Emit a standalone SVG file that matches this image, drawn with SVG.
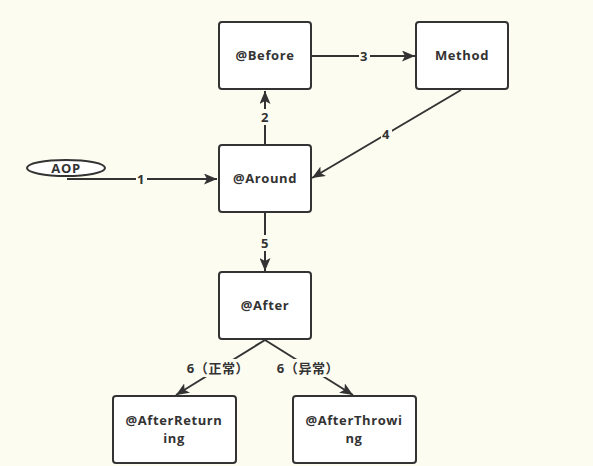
<svg xmlns="http://www.w3.org/2000/svg" width="593" height="466" viewBox="0 0 593 466">
<style>
.box{fill:#fff;stroke:#333;stroke-width:2}
.t{font-family:"Open Sans","Noto Sans CJK SC",sans-serif;font-weight:bold;font-size:13px;letter-spacing:0.6px;fill:#333;text-anchor:middle;dominant-baseline:central}
.c{stroke:#333;stroke-width:2;fill:none}
.lb{fill:#fcfcf1}
</style>
<defs>
<marker id="a" viewBox="0 0 13 11" refX="13" refY="5.5" markerWidth="13" markerHeight="11" markerUnits="userSpaceOnUse" orient="auto">
<path d="M0,0 L13,5.5 L0,11 L3,5.5 Z" fill="#333"/>
</marker>
</defs>
<rect width="593" height="466" fill="#fcfcf1"/>
<g id="connectors">
<path class="c" d="M67,179 H217" marker-end="url(#a)"/>
<path class="c" d="M265,145 V91" marker-end="url(#a)"/>
<path class="c" d="M311,56 H415" marker-end="url(#a)"/>
<path class="c" d="M461,90 L312,178" marker-end="url(#a)"/>
<path class="c" d="M265,212 V271" marker-end="url(#a)"/>
<path class="c" d="M265,340 L176,395" marker-end="url(#a)"/>
<path class="c" d="M265,340 L353,395" marker-end="url(#a)"/>
<rect class="lb" x="136" y="171" width="11" height="16"/>
<text class="t" x="141" y="179">1</text>
<rect class="lb" x="260" y="109" width="11" height="16"/>
<text class="t" x="265" y="117">2</text>
<rect class="lb" x="359" y="48" width="11" height="16"/>
<text class="t" x="364" y="56">3</text>
<rect class="lb" x="381" y="126" width="11" height="16"/>
<text class="t" x="386" y="134">4</text>
<rect class="lb" x="260" y="235" width="11" height="16"/>
<text class="t" x="265" y="243">5</text>
<rect class="lb" x="186" y="359" width="64" height="18"/>
<text class="t" x="218" y="368">6（正常）</text>
<rect class="lb" x="276" y="359" width="64" height="18"/>
<text class="t" x="308" y="368">6（异常）</text>
</g>
<g id="aop">
<ellipse cx="66" cy="168" rx="39" ry="8" fill="#fff" stroke="#333" stroke-width="2"/>
<text class="t" x="66" y="168">AOP</text>
</g>
<g id="before">
<rect class="box" x="219" y="22" width="92" height="67" rx="3"/>
<text class="t" x="265" y="55">@Before</text>
</g>
<g id="method">
<rect class="box" x="416" y="22" width="92" height="67" rx="3"/>
<text class="t" x="462" y="55">Method</text>
</g>
<g id="around">
<rect class="box" x="219" y="145" width="92" height="67" rx="3"/>
<text class="t" x="265" y="178">@Around</text>
</g>
<g id="after">
<rect class="box" x="219" y="272" width="92" height="67" rx="3"/>
<text class="t" x="265" y="305">@After</text>
</g>
<g id="afterReturning">
<rect class="box" x="113" y="396" width="123" height="67" rx="3"/>
<text class="t" x="174" y="420">@AfterReturn</text>
<text class="t" x="174" y="438">ing</text>
</g>
<g id="afterThrowing">
<rect class="box" x="293" y="396" width="123" height="67" rx="3"/>
<text class="t" x="354" y="420">@AfterThrowi</text>
<text class="t" x="354" y="438">ng</text>
</g>
</svg>
